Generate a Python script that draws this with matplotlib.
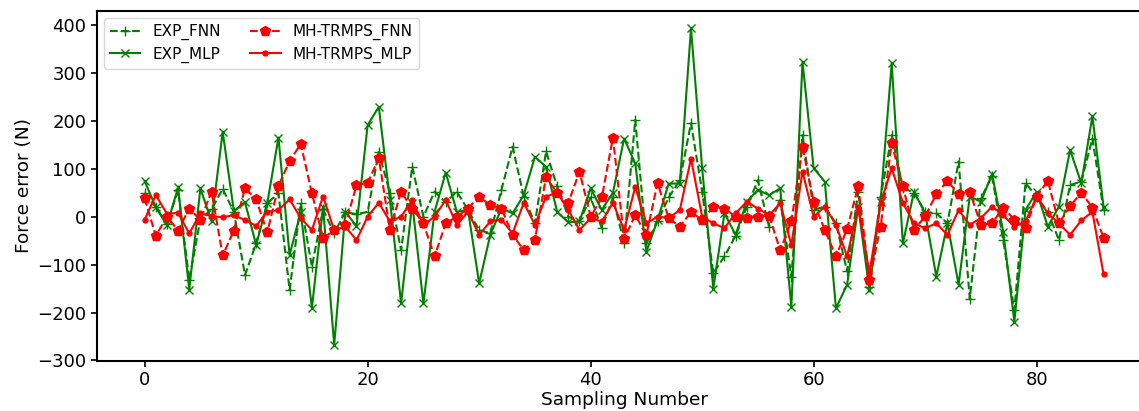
import matplotlib
matplotlib.use("Agg")
import matplotlib.pyplot as plt
import numpy as np

exp_mlp = [74, 20, -18, 61, -152, 59, -10, 177, 12,
           30, -59, 28, 165, -80, 10, -191, 20, -268, 10, -20,
           191, 229, 35, -181, 28, -181, 10, 92, 10, 14,
           -139, -38, 17, 7, 45, 125, 104, 10, -12, -10,
           59, 14, 50, 163, 111, -73, -7, 69, 69, 393,
           101, -150, 7, -38, 31, 56, 45, 59, -188, 323,
           101, 73, -191, -142, 21, -153, 31, 320, -56, 52,
           7, -125, -14, -142, 42, 31, 89, -31, -219, 14,
           52, -21, 21, 139, 70, 209, 21]
exp_fnn = [50, 20, -15, 55, -132, -5, 15, 58, 10,
           -122, -56, 28, 49, -153, 28, -104, 15, -35, 10, 5,
           10, 135, 49, -70, 104, 0, 52, 30, 52, 14,
           -28, -35, 56, 146, 42, -14, 136, 63, 0, -10,
           40, -24, 40, -56, 202, -56, -10, 40, 76, 195,
           52, -118, -83, -40, 20, 76, -21, 35, -125, 170,
           14, 21, -14, -114, 52, -146, 40, 170, 60, 50,
           10, 7, -14, 115, -171, 38, 85, -49, -195, 70,
           42, 10, -49, 66, 73, 163, 14]
mh_fnn = [38, -40, 0, -29, 17, -7, 52, -81, -29,
          59, 36, -33, 64, 116, 152, 49, -45, -28, -17, 66,
          70, 122, -28, 52, 17, -14, -83, -14, 0, 17,
          42, 24, 17, -38, -70, -49, 83, 49, 29, 94,
          0, 40, 165, -46, 3, -38, 70, -3, -21, 10,
          -7, 21, 17, 0, -3, 0, 2, -70, -10, 146,
          31, -28, -83, -26, 64, -132, -21, 153, 63, -28,
          1, 47, 75, 47, 52, -17, -14, 19, -6, -24,
          42, 75, -14, 22, 50, 19, -44]
mh_mlp = [-6, 45, 6, 8, -35, 7, 1, -1, 3,
          -7, -19, 10, 14, 36, -3, -28, 42, -28, -21, -49,
          0, 29, -10, 0, 35, -17, 0, 35, -17, 10,
          -38, -10, -6, -35, 29, -17, 42, 50, 14, -28,
          -3, -10, 29, -28, 62, -14, 0, -3, 14, 121,
          0, -14, -24, 7, 31, 17, 3, 28, -59, 94,
          0, 21, -17, -83, 21, -118, 28, 101, 29, -14,
          -24, -14, -38, 14, -17, -3, 21, 3, -21, -10,
          42, 7, -14, -38, -8, 10, -120]

x = np.arange(len(exp_mlp))

W, H = 1139, 411
fig = plt.figure(figsize=(W / 100, H / 100), dpi=100)
left, right, top, bottom = 96.7, 1151.5, 11.0, 360.7
ax = fig.add_axes([left / W, 1 - bottom / H, (right - left) / W, (bottom - top) / H])

ax.plot(x, exp_fnn, color='green', linestyle='--', marker='+', markersize=7, linewidth=1.5, label='EXP_FNN')
ax.plot(x, exp_mlp, color='green', linestyle='-', marker='x', markersize=6, linewidth=1.5, label='EXP_MLP')
ax.plot(x, mh_fnn, color='red', linestyle='--', marker='p', markersize=7, linewidth=1.5, label='MH-TRMPS_FNN')
ax.plot(x, mh_mlp, color='red', linestyle='-', marker='.', markersize=7, linewidth=1.5, label='MH-TRMPS_MLP')

ax.set_xlim(-4.3, 90.3)
ax.set_ylim(-300.5, 429)
ax.set_xticks([0, 20, 40, 60, 80])
ax.set_yticks([-300, -200, -100, 0, 100, 200, 300, 400])
ax.tick_params(labelsize=13, width=1.2, length=4)
ax.set_xlabel('Sampling Number', fontsize=13.3, labelpad=1)
ax.set_ylabel('Force error (N)', fontsize=13.3, labelpad=3)
for s in ax.spines.values():
    s.set_linewidth(1.5)
ax.legend(loc='upper left', ncol=2, fontsize=11, handlelength=2, columnspacing=1.9,
          borderaxespad=0.45, labelspacing=0.4)

fig.savefig('out.png', dpi=100)
